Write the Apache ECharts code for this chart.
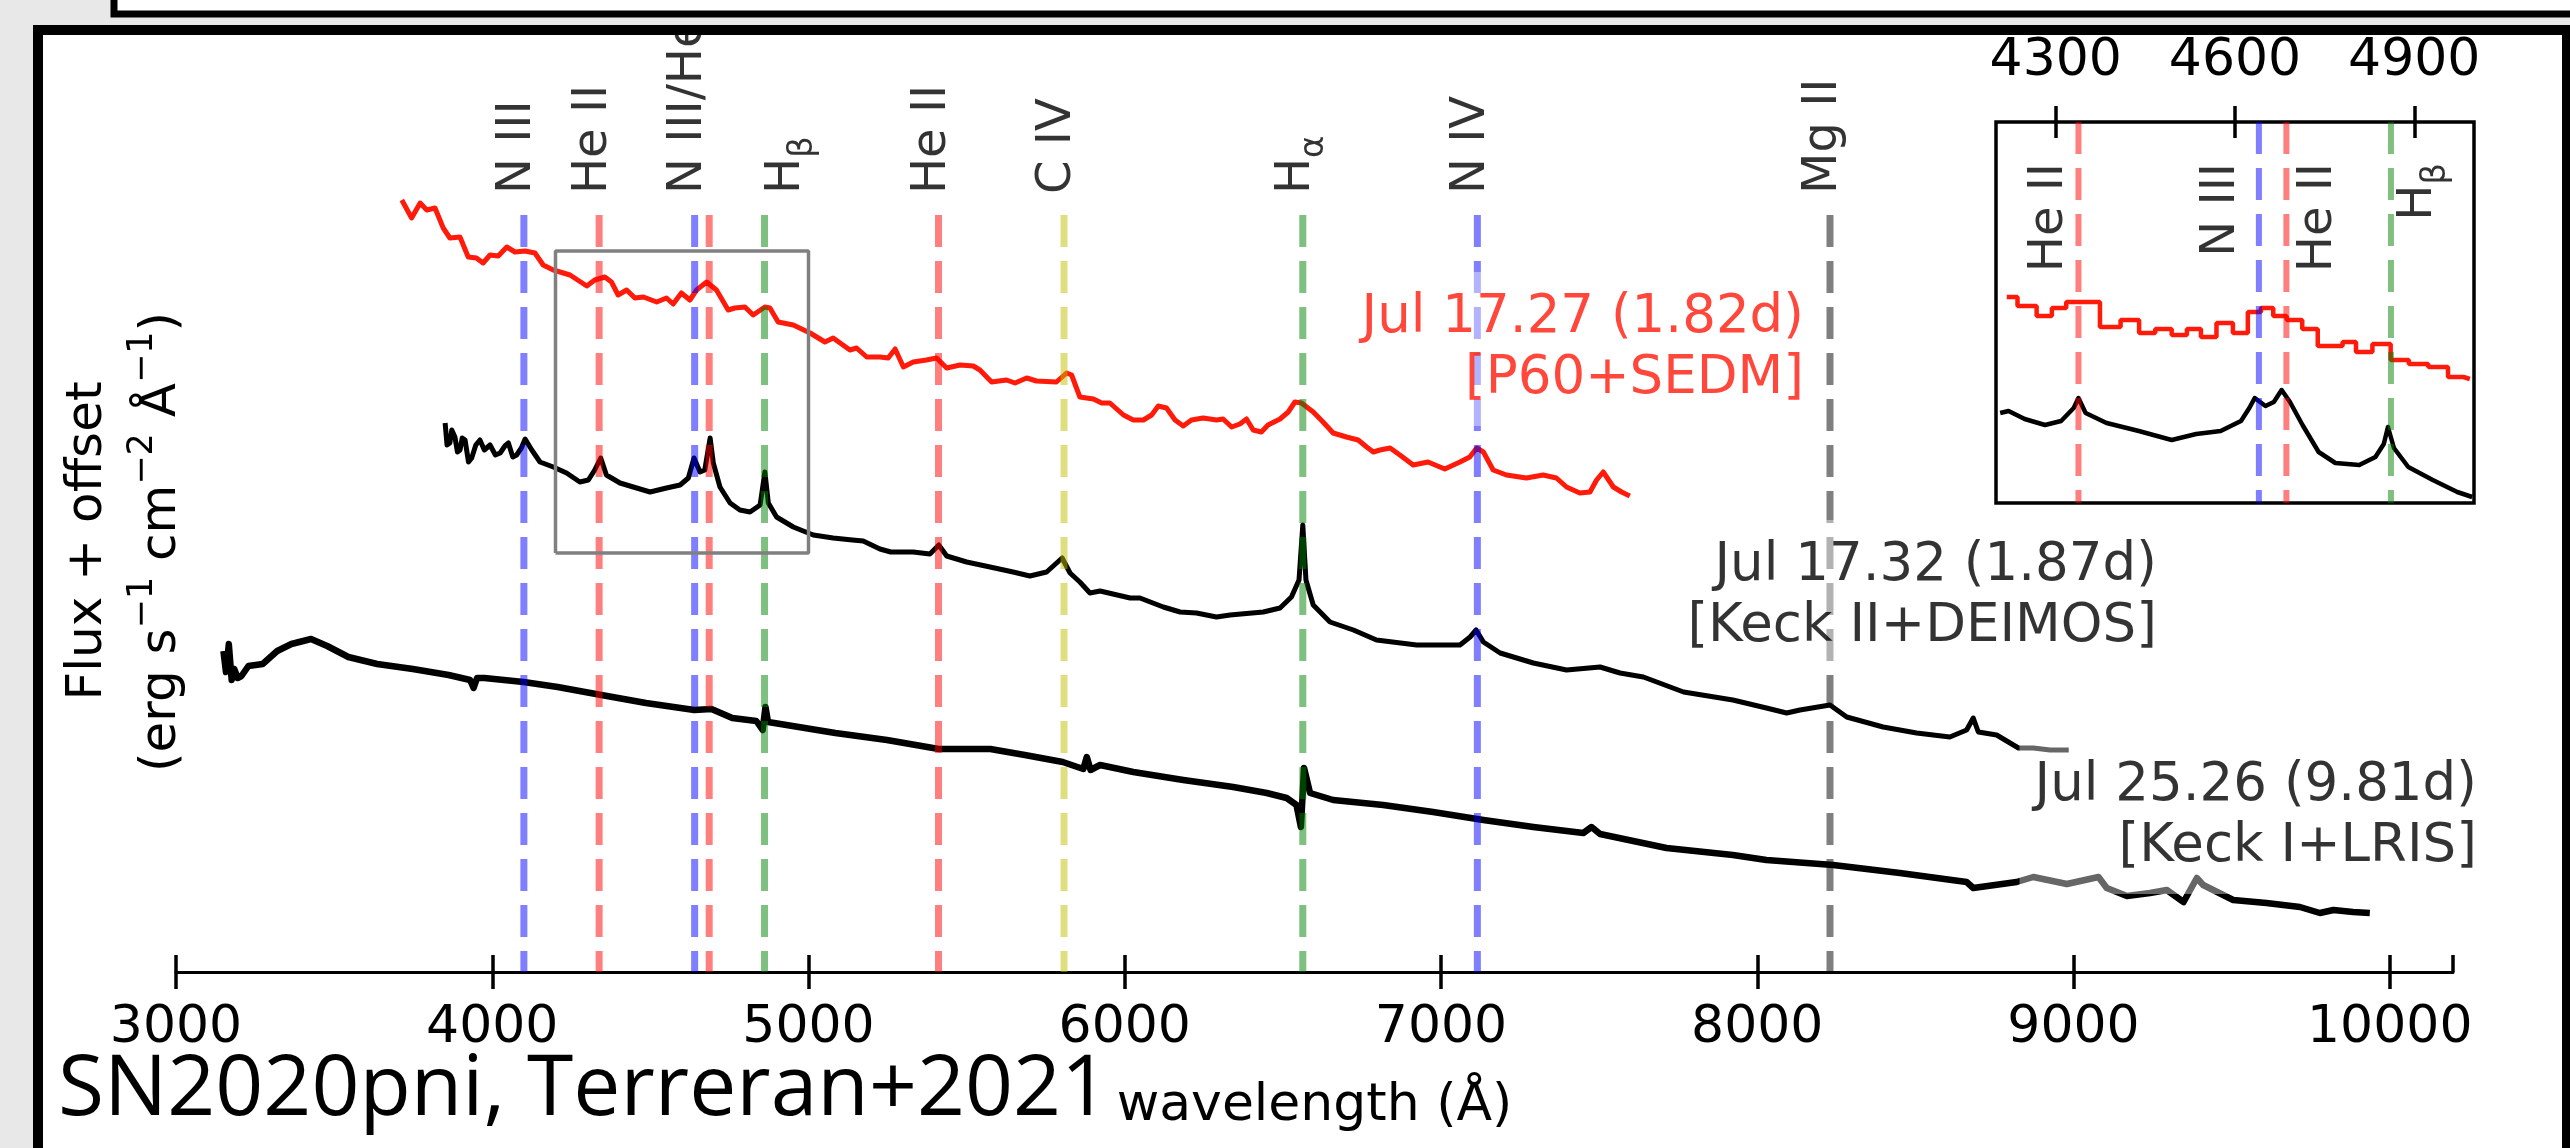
<!DOCTYPE html>
<html>
<head>
<meta charset="utf-8">
<script src="https://cdn.jsdelivr.net/npm/echarts@6/dist/echarts.min.js"></script>
<style>
  html, body { margin: 0; padding: 0; background: #e8e8e8; }
  #chart { width: 2570px; height: 1148px; }
</style>
</head>
<body>
<div id="chart"></div>
<script>
// ---- SN2020pni spectra (wavelength in Å, flux + offset in arbitrary units) ----

// Jul 17.27 (1.82d) [P60+SEDM]
const sedmWave = [3714,3745,3772,3793,3819,3845,3866,3898,3924,3950,3971,3993,4019,4046,4072,4104,4135,4161,4193,4246,
  4299,4324,4356,4377,4398,4425,4451,4478,4520,4551,4572,4598,4625,4646,4678,4709,4746,4767,4799,4825,
  4862,4878,4904,4952,5005,5052,5078,5131,5152,5184,5226,5252,5274,5300,5331,5373,5405,5437,5479,5521,
  5542,5579,5626,5653,5690,5721,5784,5816,5832,5858,5901,5927,5953,5996,6027,6059,6085,6106,6132,6159,
  6185,6211,6248,6290,6311,6338,6364,6385,6406,6432,6453,6491,6517,6538,6559,6596,6627,6659,6701,6738,
  6765,6786,6807,6839,6870,6912,6959,7012,7060,7091,7113,7134,7165,7207,7270,7323,7365,7397,7439,7471,
  7492,7513,7545,7571,7597];
const sedmFlux = [7.72,7.54,7.69,7.62,7.64,7.44,7.34,7.35,7.15,7.14,7.09,7.17,7.16,7.25,7.20,7.21,7.19,7.07,7.02,6.97,
  6.86,6.92,6.95,6.90,6.77,6.82,6.74,6.75,6.70,6.74,6.68,6.79,6.72,6.82,6.90,6.82,6.62,6.64,6.65,6.57,
  6.65,6.64,6.50,6.47,6.39,6.30,6.34,6.22,6.24,6.15,6.15,6.14,6.23,6.05,6.10,6.12,6.14,6.04,6.07,6.06,
  6.02,5.90,5.92,5.89,5.94,5.91,5.90,5.99,5.97,5.75,5.73,5.69,5.69,5.57,5.52,5.52,5.57,5.66,5.64,5.52,
  5.46,5.52,5.54,5.52,5.53,5.45,5.48,5.53,5.42,5.40,5.47,5.53,5.60,5.70,5.69,5.60,5.50,5.39,5.35,5.32,
  5.25,5.20,5.22,5.24,5.17,5.07,5.10,5.03,5.10,5.15,5.24,5.20,5.02,4.97,4.94,4.97,4.94,4.85,4.79,4.80,
  4.92,5.00,4.85,4.80,4.76];

// Jul 17.32 (1.87d) [Keck II+DEIMOS]
const deimosWave = [3851,3857,3866,3872,3882,3890,3898,3905,3914,3925,3935,3948,3961,3975,3993,4010,4025,4040,4051,4065,
  4077,4092,4104,4125,4151,4193,4235,4277,4304,4324,4343,4361,4404,4446,4499,4551,4594,4620,4638,4657,
  4672,4689,4699,4720,4752,4783,4815,4847,4862,4873,4899,4952,5015,5078,5139,5173,5226,5260,5331,5384,
  5412,5437,5500,5574,5647,5700,5753,5802,5827,5858,5890,5922,6017,6048,6122,6175,6227,6290,6333,6438,
  6491,6527,6551,6563,6573,6596,6649,6723,6796,6923,7060,7092,7111,7134,7187,7292,7397,7503,7566,7640,
  7767,7923,8029,8093,8135,8230,8283,8398,8504,8609,8662,8683,8699,8757,8810,8826,8873,8926,8985];
const deimosFlux = [5.49,5.27,5.29,5.42,5.35,5.20,5.22,5.34,5.32,5.10,5.14,5.27,5.32,5.22,5.27,5.17,5.19,5.26,5.29,5.15,
  5.17,5.24,5.33,5.22,5.10,5.05,4.99,4.90,4.92,5.02,5.14,4.97,4.89,4.85,4.80,4.84,4.87,4.94,5.14,5.00,
  5.02,5.34,5.09,4.85,4.69,4.62,4.60,4.67,5.00,4.69,4.55,4.45,4.37,4.34,4.32,4.31,4.23,4.20,4.20,4.18,
  4.27,4.16,4.10,4.05,4.00,3.96,4.00,4.14,3.99,3.90,3.79,3.81,3.74,3.74,3.65,3.60,3.59,3.55,3.57,3.60,
  3.64,3.75,3.92,4.47,3.92,3.67,3.50,3.42,3.32,3.27,3.27,3.35,3.42,3.30,3.19,3.09,3.02,3.05,2.99,2.95,
  2.80,2.72,2.64,2.59,2.62,2.67,2.55,2.45,2.39,2.35,2.42,2.54,2.40,2.37,2.27,2.24,2.24,2.22,2.22];

// Jul 25.26 (9.81d) [Keck I+LRIS]
const lrisWave = [3150,3158,3167,3176,3184,3195,3207,3229,3274,3320,3365,3427,3478,3545,3636,3749,3862,3930,3941,3952,
  3975,4099,4207,4345,4486,4639,4693,4759,4835,4855,4864,4872,4911,5085,5248,5412,5575,5684,5804,5869,
  5880,5892,5922,6027,6185,6343,6449,6512,6543,6557,6567,6586,6659,6817,6975,7134,7292,7450,7476,7503,
  7713,7923,8029,8240,8451,8662,8683,8820,8873,8979,9079,9105,9169,9242,9295,9348,9390,9410,9505,9610,
  9716,9779,9822,9884,9937];
const lrisFlux = [3.21,3.00,3.28,2.92,3.03,2.94,2.96,3.06,3.08,3.21,3.28,3.33,3.26,3.15,3.08,3.03,2.97,2.92,2.84,2.94,
  2.94,2.90,2.85,2.77,2.69,2.62,2.63,2.54,2.51,2.42,2.65,2.50,2.48,2.39,2.32,2.23,2.23,2.17,2.10,2.03,
  2.15,2.02,2.07,2.00,1.92,1.85,1.79,1.74,1.67,1.45,2.04,1.79,1.72,1.67,1.60,1.52,1.45,1.39,1.45,1.38,
  1.24,1.17,1.12,1.07,0.99,0.90,0.84,0.90,0.95,0.88,0.95,0.84,0.76,0.79,0.82,0.70,0.94,0.87,0.72,0.69,
  0.65,0.59,0.62,0.60,0.59];

// Inset (4200-5000 Å): SEDM (binned) and DEIMOS, rescaled
const insetSedmWave = [4218,4254,4282,4305,4330,4357,4391,4426,4453,4480,4508,4531,4555,4583,4610,4633,4654,4674,4699,4726,
  4751,4770,4790,4815,4845,4876,4906,4941,4972,4993];
const insetSedmFlux = [2.06,1.97,1.87,1.95,2.01,2.01,1.76,1.83,1.70,1.74,1.68,1.74,1.66,1.80,1.70,1.91,1.95,1.87,1.83,1.74,
  1.57,1.57,1.61,1.51,1.59,1.43,1.39,1.36,1.26,1.24];
const insetDeimosWave = [4207,4221,4248,4282,4309,4330,4338,4350,4385,4439,4494,4535,4576,4610,4624,4633,4651,4665,4678,4692,
  4713,4740,4768,4808,4835,4849,4856,4866,4890,4931,4972,4997];
const insetDeimosFlux = [0.90,0.92,0.84,0.78,0.82,0.95,1.05,0.90,0.80,0.72,0.63,0.69,0.72,0.82,0.95,1.05,0.97,1.01,1.13,1.01,
  0.78,0.51,0.40,0.38,0.46,0.59,0.76,0.55,0.36,0.23,0.11,0.06];

// Line identifications
const lineWave  = [4100, 4338, 4640, 4686, 4861, 5411, 5808, 6563, 7115, 8230];
const lineIon   = ['N III', 'He II', 'N III/He II', '', 'H_β', 'He II', 'C IV', 'H_α', 'N IV', 'Mg II'];
const lineKind  = ['N', 'He', 'N', 'He', 'H', 'He', 'C', 'H', 'N', 'Mg'];
const lineTopFlux = 7.57;

const insetLineWave = [4338, 4640, 4686, 4861];
const insetLineIon  = ['He II', 'N III', 'He II', 'H_β'];
const insetLineKind = ['He', 'N', 'He', 'H'];

// Zoom box drawn on the main panel (wavelength range of the inset, flux range)
const zoomWave = [4200, 5000];
const zoomFlux = [4.19, 7.21];

// Epoch annotations: text and anchor in data coordinates
const epochText = ['Jul 17.27 (1.82d)\n[P60+SEDM]', 'Jul 17.32 (1.87d)\n[Keck II+DEIMOS]', 'Jul 25.26 (9.81d)\n[Keck I+LRIS]'];
const epochWave = [8195, 9311, 10323];
const epochFlux = [6.23, 3.75, 1.55];

const mainTicks  = [3000, 10000, 1000];   // first, last, step
const insetTicks = [4300, 4600, 4900];

// ---- styling ----
const FONT = 'DejaVu Sans';
const kindColor = {
  N: 'rgba(0,0,255,0.5)', He: 'rgba(255,0,0,0.5)', H: 'rgba(0,128,0,0.5)',
  C: 'rgba(191,191,0,0.5)', Mg: 'rgba(0,0,0,0.5)'
};
const RED = '#ff1a0a';
const epochColor = [RED, '#000000', '#000000'];
const dash = [32, 14];
// label offsets are given in the label's rotated frame: [along text, across text]
const mainLabelShift = { 'H_β': 22 };          // px shift of the label from its line (across)
const insetLabelShift = [-29, -37, 32, 28];

function richName(name) {
  if (name.indexOf('_') >= 0) {
    const p = name.split('_');
    return '{m|' + p[0] + '}{s|' + p[1] + '}';
  }
  return '{m|' + name + '}';
}
const ionRich = {
  m: { fontFamily: FONT, fontSize: 48, lineHeight: 68, color: '#000' },
  s: { fontFamily: FONT, fontSize: 34, lineHeight: 34, color: '#000', verticalAlign: 'bottom' }
};

const zip = (a, b) => a.map((v, i) => [v, b[i]]);
const plain = v => String(v);

const series = [];

// main spectra
series.push({ type: 'line', xAxisIndex: 0, yAxisIndex: 0, data: zip(sedmWave, sedmFlux), symbol: 'none',
  lineStyle: { color: RED, width: 5, join: 'round' }, z: 2, silent: true });
series.push({ type: 'line', xAxisIndex: 0, yAxisIndex: 0, data: zip(deimosWave, deimosFlux), symbol: 'none',
  lineStyle: { color: '#000', width: 5, join: 'round' }, z: 2, silent: true });
series.push({ type: 'line', xAxisIndex: 0, yAxisIndex: 0, data: zip(lrisWave, lrisFlux), symbol: 'none',
  lineStyle: { color: '#000', width: 6.5, join: 'round' }, z: 2, silent: true });

// identification lines (main panel)
lineWave.forEach((w, i) => {
  series.push({ type: 'line', xAxisIndex: 0, yAxisIndex: 0, data: [[w, lineTopFlux], [w, 0]], symbol: 'none',
    lineStyle: { color: kindColor[lineKind[i]], width: 7, type: dash, cap: 'butt' }, z: 3, silent: true });
});

// zoom box
series.push({ type: 'line', xAxisIndex: 0, yAxisIndex: 0, symbol: 'none', silent: true, z: 3,
  data: [[zoomWave[0], zoomFlux[0]], [zoomWave[1], zoomFlux[0]], [zoomWave[1], zoomFlux[1]],
         [zoomWave[0], zoomFlux[1]], [zoomWave[0], zoomFlux[0]]],
  lineStyle: { color: '#808080', width: 3.5 } });

// ion labels (main panel)
series.push({
  type: 'scatter', xAxisIndex: 0, yAxisIndex: 0, symbolSize: 1, itemStyle: { color: 'transparent' },
  silent: true, clip: false, z: 4,
  data: lineWave.map((w, i) => ({ name: lineIon[i], value: [w, lineTopFlux],
    label: { offset: [21, mainLabelShift[lineIon[i]] !== undefined ? mainLabelShift[lineIon[i]] : -6] } }))
    .filter(d => d.name !== ''),
  label: { show: true, position: 'inside', rotate: 90, align: 'left', verticalAlign: 'middle',
    formatter: p => richName(p.name), rich: ionRich }
});

// epoch annotations (semi-transparent white box behind each)
series.push({
  type: 'scatter', xAxisIndex: 0, yAxisIndex: 0, symbolSize: 1, itemStyle: { color: 'transparent' },
  silent: true, clip: false, z: 6,
  data: epochText.map((t, i) => ({ name: t, value: [epochWave[i], epochFlux[i]],
    label: { color: epochColor[i] } })),
  label: { show: true, position: 'inside', align: 'right', verticalAlign: 'middle',
    formatter: p => p.name, fontFamily: FONT, fontSize: 53, lineHeight: 61,
    backgroundColor: 'rgba(255,255,255,0.5)', padding: [16, 15, 16, 15] }
});

// inset spectra
series.push({ type: 'line', xAxisIndex: 2, yAxisIndex: 1, data: zip(insetSedmWave, insetSedmFlux), symbol: 'none',
  step: 'middle', lineStyle: { color: RED, width: 4.5 }, z: 2, silent: true });
series.push({ type: 'line', xAxisIndex: 2, yAxisIndex: 1, data: zip(insetDeimosWave, insetDeimosFlux), symbol: 'none',
  lineStyle: { color: '#000', width: 4.5, join: 'round' }, z: 2, silent: true });
insetLineWave.forEach((w, i) => {
  series.push({ type: 'line', xAxisIndex: 2, yAxisIndex: 1, data: [[w, 3.81], [w, 0]], symbol: 'none',
    lineStyle: { color: kindColor[insetLineKind[i]], width: 6, type: dash, cap: 'butt' }, z: 3, silent: true });
});
series.push({
  type: 'scatter', xAxisIndex: 2, yAxisIndex: 1, symbolSize: 1, itemStyle: { color: 'transparent' },
  silent: true, clip: false, z: 4,
  data: insetLineWave.map((w, i) => ({ name: insetLineIon[i], value: [w, 3.81],
    label: { offset: [-41, insetLabelShift[i]] } })),
  label: { show: true, position: 'inside', rotate: 90, align: 'right', verticalAlign: 'middle',
    formatter: p => richName(p.name), rich: ionRich }
});

const tickStyle = { color: '#000', width: 3.5 };
const labelStyle = { fontFamily: FONT, fontSize: 52, color: '#000', lineHeight: 60 };

const option = {
  animation: false,
  backgroundColor: '#e8e8e8',
  grid: [
    { left: 176, right: 117, top: 110, bottom: 176 },
    { left: 1996, top: 122, width: 478, height: 381, show: true, backgroundColor: '#fff',
      borderColor: '#000', borderWidth: 3.5 }
  ],
  xAxis: [
    { gridIndex: 0, type: 'value', position: 'bottom', min: mainTicks[0], max: 10200, interval: mainTicks[2],
      axisLine: { onZero: false, lineStyle: { color: '#000', width: 3 } },
      axisTick: { length: 17, lineStyle: tickStyle },
      axisLabel: Object.assign({ margin: 26, formatter: plain }, labelStyle),
      splitLine: { show: false },
      name: 'wavelength (Å)', nameLocation: 'middle', nameGap: 104, nameTextStyle: labelStyle },
    { gridIndex: 0, type: 'value', position: 'bottom', min: mainTicks[0], max: 10200, interval: mainTicks[2],
      axisLine: { show: false, onZero: false },
      axisTick: { inside: true, length: 17, lineStyle: tickStyle },
      axisLabel: { show: false }, splitLine: { show: false } },
    { gridIndex: 1, type: 'value', position: 'top', min: 4200, max: 5000,
      axisLine: { show: false, onZero: false },
      axisTick: { length: 16, lineStyle: tickStyle, customValues: insetTicks },
      axisLabel: Object.assign({ margin: 31, customValues: insetTicks, formatter: plain }, labelStyle),
      splitLine: { show: false } },
    { gridIndex: 1, type: 'value', position: 'top', min: 4200, max: 5000,
      axisLine: { show: false, onZero: false },
      axisTick: { inside: true, length: 16, lineStyle: tickStyle, customValues: insetTicks },
      axisLabel: { show: false }, splitLine: { show: false } }
  ],
  yAxis: [
    { gridIndex: 0, type: 'value', min: 0, max: 8.62, show: false },
    { gridIndex: 1, type: 'value', min: 0, max: 3.81, show: false }
  ],
  series: series,
  graphic: [
    // white figure panel
    { type: 'rect', z: -1, shape: { x: 43, y: 35, width: 2519, height: 1120 }, style: { fill: '#fff' } },
    // y label, two lines
    { type: 'text', z: 10, x: 88, y: 541, rotation: Math.PI / 2,
      style: { text: 'Flux + offset', fontFamily: FONT, fontSize: 50, fill: '#000',
        align: 'center', verticalAlign: 'middle' } },
    { type: 'text', z: 10, x: 162, y: 542, rotation: Math.PI / 2,
      style: { text: '{m|(erg s}{p|−1}{m| cm}{p|−2}{m| Å}{p|−1}{m|)}',
        align: 'center', verticalAlign: 'middle', fill: '#000',
        rich: { m: { fontFamily: FONT, fontSize: 50, lineHeight: 73, color: '#000' },
                p: { fontFamily: FONT, fontSize: 35, lineHeight: 43, color: '#000', verticalAlign: 'top' } } } },
    // caption
    { type: 'text', z: 50, x: 58, y: 1091,
      style: { text: 'SN2020pni, Terreran+2021', fontFamily: 'Open Sans', fontSize: 84, fill: '#000',
        align: 'left', verticalAlign: 'middle' } },
    // frame around the panel and area above it
    { type: 'rect', z: 99, shape: { x: 0, y: 0, width: 2570, height: 25 }, style: { fill: '#e8e8e8' } },
    { type: 'rect', z: 100, shape: { x: 33, y: 25, width: 2537, height: 10 }, style: { fill: '#000' } },
    { type: 'rect', z: 100, shape: { x: 33, y: 25, width: 10, height: 1123 }, style: { fill: '#000' } },
    { type: 'rect', z: 100, shape: { x: 2562, y: 25, width: 8, height: 1123 }, style: { fill: '#000' } },
    // slide box at the very top
    { type: 'rect', z: 101, shape: { x: 114, y: -10, width: 2470, height: 24 }, style: { fill: '#fff', stroke: '#000', lineWidth: 7 } }
  ]
};

const chart = echarts.init(document.getElementById('chart'), null, { renderer: 'canvas' });
chart.setOption(option);
</script>
</body>
</html>
